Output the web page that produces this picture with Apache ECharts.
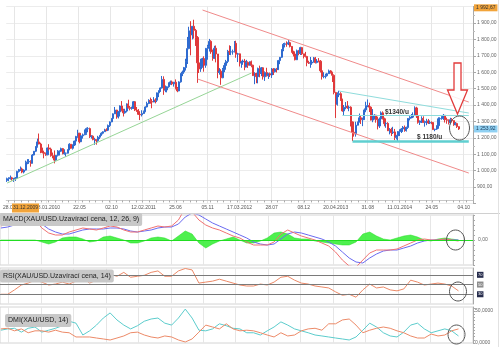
<!DOCTYPE html>
<html><head><meta charset="utf-8">
<script src="https://cdn.jsdelivr.net/npm/echarts@6/dist/echarts.min.js"></script>
<style>html,body{margin:0;padding:0;background:#fff}#c{width:500px;height:347px}</style>
</head><body><div id="c"></div>
<script>
// ---------- DATA ----------
const firstWeekMonday = '2009-07-20';
const totalWeeks = 277;            // axis length in weekly slots
const firstTickIndex = 5;
const tickEvery = 19;
const tickLabels = ['28.08.2009','08.01.2010','22.05','02.10','12.02.2011','25.06','05.11','17.03.2012','28.07','08.12','20.04.2013','31.08','11.01.2014','24.05','04.10'];

const firstOpen = 940;
const closes = [
951,954,956,949,953,955,995,1006,1010,991,
1003,1050,1053,1056,1045,1095,1118,1146,1175,1162,
1120,1110,1104,1096,1138,1131,1091,1083,1064,1093,
1118,1118,1134,1103,1106,1106,1126,1161,1136,1156,
1180,1208,1228,1176,1212,1218,1227,1256,1256,1207,
1210,1189,1189,1182,1204,1215,1228,1237,1248,1246,
1275,1297,1318,1346,1369,1327,1358,1394,1367,1352,
1363,1406,1384,1379,1380,1420,1369,1361,1343,1340,
1348,1361,1388,1409,1428,1421,1418,1430,1429,1474,
1486,1504,1556,1491,1492,1511,1536,1541,1529,1539,
1501,1486,1541,1591,1601,1628,1663,1744,1852,1828,
1880,1855,1812,1657,1620,1636,1683,1642,1745,1755,
1788,1724,1685,1746,1711,1598,1606,1566,1617,1641,
1666,1727,1724,1724,1725,1776,1710,1712,1656,1662,
1668,1631,1660,1642,1663,1643,1579,1592,1573,1622,
1592,1627,1572,1598,1579,1591,1583,1619,1603,1620,
1616,1671,1691,1738,1770,1773,1772,1780,1757,1724,
1711,1676,1731,1714,1750,1712,1702,1696,1658,1656,
1656,1662,1687,1659,1668,1667,1609,1573,1576,1578,
1591,1608,1596,1581,1476,1405,1462,1469,1436,1364,
1386,1392,1383,1387,1297,1234,1223,1277,1295,1322,
1310,1312,1370,1396,1396,1387,1308,1333,1338,1310,
1272,1315,1352,1316,1286,1288,1243,1251,1231,1236,
1203,1212,1238,1249,1254,1264,1244,1263,1318,1324,
1326,1339,1382,1334,1294,1303,1318,1293,1300,1302,
1290,1293,1292,1250,1253,1274,1316,1317,1320,1337,
1310,1307,1294,1310,1305,1280,1287,1268,1253.92];
const highs = [
957,959,970,962,955,960,999,1010,1025,1018,
1008,1061,1070,1070,1063,1101,1119,1150,1195,1226,
1170,1140,1111,1110,1139,1161,1140,1110,1123,1095,
1125,1123,1140,1138,1130,1110,1130,1167,1162,1160,
1182,1212,1249,1230,1216,1226,1251,1262,1265,1262,
1216,1215,1200,1190,1212,1216,1234,1240,1255,1258,
1281,1300,1320,1349,1388,1371,1364,1398,1424,1377,
1377,1410,1432,1394,1390,1424,1422,1388,1375,1346,
1368,1366,1392,1420,1435,1445,1436,1448,1441,1476,
1490,1508,1577,1575,1519,1514,1537,1549,1549,1541,
1556,1510,1545,1594,1610,1632,1682,1815,1877,1911,
1882,1920,1864,1820,1675,1682,1688,1697,1748,1767,
1803,1795,1738,1761,1763,1711,1625,1618,1626,1658,
1675,1736,1764,1760,1738,1790,1792,1718,1714,1670,
1677,1681,1675,1666,1666,1671,1646,1600,1597,1628,
1640,1631,1628,1605,1627,1596,1598,1625,1625,1624,
1626,1675,1692,1740,1778,1780,1788,1796,1786,1760,
1731,1725,1738,1736,1755,1754,1712,1724,1700,1670,
1693,1674,1693,1693,1680,1686,1674,1615,1600,1591,
1596,1616,1613,1603,1587,1480,1477,1487,1478,1438,
1400,1418,1424,1396,1392,1299,1267,1298,1299,1348,
1336,1323,1379,1420,1434,1414,1392,1375,1344,1340,
1329,1324,1361,1361,1323,1295,1295,1259,1261,1267,
1254,1218,1241,1251,1260,1272,1275,1268,1320,1332,
1345,1355,1392,1389,1335,1306,1331,1331,1305,1316,
1315,1306,1300,1295,1255,1276,1325,1325,1332,1345,
1339,1323,1312,1322,1320,1305,1296,1292,1270];
const lows = [
931,935,945,939,931,937,950,988,998,984,
983,1000,1039,1041,1024,1043,1092,1113,1140,1160,
1106,1105,1075,1090,1094,1122,1085,1075,1044,1060,
1086,1092,1113,1099,1097,1085,1104,1125,1133,1128,
1150,1163,1200,1166,1175,1195,1216,1218,1234,1199,
1195,1185,1157,1158,1176,1192,1212,1221,1236,1240,
1241,1266,1295,1310,1345,1316,1318,1330,1361,1330,
1347,1355,1378,1367,1371,1376,1363,1358,1340,1308,
1330,1345,1356,1385,1405,1408,1380,1417,1410,1418,
1448,1480,1500,1462,1478,1477,1505,1523,1521,1512,
1495,1478,1484,1536,1576,1590,1610,1650,1740,1703,
1800,1805,1760,1535,1595,1602,1627,1603,1627,1676,
1726,1712,1670,1680,1660,1563,1585,1523,1563,1600,
1628,1655,1705,1704,1707,1720,1688,1662,1635,1627,
1645,1612,1631,1626,1640,1630,1577,1527,1533,1532,
1569,1576,1555,1547,1573,1559,1571,1565,1583,1598,
1598,1613,1649,1687,1728,1751,1755,1765,1751,1719,
1696,1672,1674,1703,1705,1705,1684,1690,1636,1650,
1627,1645,1659,1653,1654,1660,1598,1555,1563,1562,
1575,1590,1592,1540,1465,1321,1396,1448,1425,1359,
1338,1374,1377,1362,1269,1180,1207,1207,1275,1294,
1284,1271,1308,1356,1387,1357,1306,1295,1311,1292,
1251,1260,1312,1312,1270,1261,1241,1221,1211,1223,
1186,1190,1181,1211,1229,1236,1237,1238,1254,1306,
1318,1320,1335,1321,1286,1278,1290,1291,1268,1277,
1284,1284,1283,1249,1240,1248,1255,1305,1310,1309,
1293,1286,1281,1282,1293,1273,1276,1260,1248];

const cursorPrice = 1992.67;
const cursorDateLabel = '31.12.2009';

// indicators, one reading every 4 weeks
const indicatorStep = 4;
const macdLine = [70,80,90,100,110,100,60,35,25,25,40,50,60,55,50,60,70,65,50,40,40,50,60,70,65,70,100,160,140,100,75,60,50,35,20,10,-10,-25,-25,-25,-10,30,50,35,20,10,0,-15,-30,-60,-100,-130,-135,-100,-65,-50,-50,-50,-45,-30,-15,0,5,0,0,5,0,-5];
const signalLine = [60,65,75,85,95,95,80,55,40,30,30,40,50,55,55,55,60,60,55,45,40,45,50,60,65,65,80,115,135,125,105,85,70,55,40,25,10,-10,-20,-25,-20,5,30,40,35,25,15,5,-10,-30,-60,-90,-110,-115,-90,-70,-55,-50,-50,-40,-30,-15,-5,0,0,0,0,0];
const macdHist = [0,0,0,0,0,0,-10,-20,-10,10,15,15,5,-10,-5,15,20,10,0,-15,-15,-5,10,15,10,-5,20,45,30,-15,-40,-20,-5,5,15,0,-15,-15,-5,10,35,40,30,10,5,5,-5,-10,-15,-20,-25,-25,-10,30,40,20,5,0,10,20,25,15,0,-5,5,10,5,0];
const rsi = [30,30,39,49,53,59,55,49,51,55,51,57,63,53,59,67,71,67,75,65,67,69,75,78,67,67,78,83,80,53,55,57,61,57,53,49,47,47,51,49,55,65,67,59,53,51,47,45,43,35,28,30,24,39,51,43,45,39,37,41,59,55,49,51,53,51,47,37];
const rsiLevels = [70,50,30];
const diPlus = [20,22,23,17,23,25,17,20,23,27,34,31,12.5,19,28,39,47,36,28,22,27,34,37.5,39,31,28,39,53,39,20,19,22,30,27,23,22,16,16,12.5,19,25,33,28,22,19,16,12.5,11,9.4,7.8,6.3,4.7,9.4,20,31,25,16,11,9.4,17,28,31,22,16,19,22,19,11];
const diMinus = [22,23,19,22,16,19,19,17,20,17,16,9.4,9.4,9.4,7.8,6.3,4.7,7.8,11,16,17,12.5,9.4,7.8,11,9.4,4.7,1.6,6.3,17,28,25,22,30,22,19,20,19,16,12.5,9.4,16,11,12.5,19,22,23,20,30,30,36,37.5,28,16,20,23,25,23,19,16,11,7.8,7.8,14,11,12.5,19,22];

// ---------- BUILD ----------
const categories = [];
{
  const d0 = new Date(firstWeekMonday + 'T00:00:00Z');
  for (let i = 0; i < totalWeeks; i++) {
    const d = new Date(d0.getTime() + i * 7 * 86400000);
    categories.push(d.toISOString().slice(0, 10));
  }
}
const isTick = (i) => i >= firstTickIndex && (i - firstTickIndex) % tickEvery === 0;
const tickText = (i) => isTick(i) ? (tickLabels[(i - firstTickIndex) / tickEvery] || '') : '';

const ohlc = closes.map((c, i) => {
  const o = i === 0 ? firstOpen : closes[i - 1]; // weekly bar opens at previous close
  return [o, c, lows[i], highs[i]];
});
const sampled = (arr) => arr.map((v, k) => [k * indicatorStep, v]);

function fmtNum(v, dec) {
  const parts = v.toFixed(dec).split('.');
  return parts[0].replace(/\B(?=(\d{3})+(?!\d))/g, ' ') + ',' + parts[1];
}
const lastClose = closes[closes.length - 1];

const FONT = 'Liberation Sans';
const gridL = 0, gridR = 27;
const vSplit = { show: true, interval: (i) => isTick(i), lineStyle: { color: '#e6e6e6', width: 1 } };

function lowerX(gi) {
  return { type: 'category', gridIndex: gi, data: categories, boundaryGap: true,
    axisLine: { show: false }, axisTick: { show: false }, axisLabel: { show: false },
    splitLine: vSplit };
}
const priceTag = (v, bg, fg) => ({
  yAxis: v, lineStyle: { color: 'rgba(0,0,0,0)', width: 1 },
  label: { show: true, position: 'end', distance: 1, formatter: fmtNum(v, 2), fontSize: 5, color: fg,
    backgroundColor: bg, padding: [1, 2], fontFamily: FONT }
});

const option = {
  animation: false,
  backgroundColor: '#ffffff',
  textStyle: { fontFamily: FONT },
  grid: [
    { left: gridL, right: gridR, top: 6.6, height: 196.8, containLabel: false },
    { left: gridL, right: gridR, top: 215, height: 50, containLabel: false, show: true, borderColor: '#d4d4d4', borderWidth: 1 },
    { left: gridL, right: gridR, top: 268, height: 36, containLabel: false, show: true, borderColor: '#d4d4d4', borderWidth: 1 },
    { left: gridL, right: gridR, top: 307, height: 36, containLabel: false, show: true, borderColor: '#d4d4d4', borderWidth: 1 }
  ],
  xAxis: [
    { type: 'category', gridIndex: 0, data: categories, boundaryGap: true, offset: -3,
      axisLine: { show: true, lineStyle: { color: '#c8c8c8' } },
      axisTick: { show: true, interval: (i) => (i % 4) === 1, length: 2, lineStyle: { color: '#aaaaaa' } },
      axisLabel: { show: true, interval: (i) => isTick(i), formatter: (v, i) => tickText(i), fontSize: 5, color: '#555', margin: 4.5, fontFamily: FONT },
      splitLine: vSplit },
    lowerX(1), lowerX(2), lowerX(3)
  ],
  yAxis: [
    { type: 'value', gridIndex: 0, position: 'right', min: 800, max: 2000, interval: 100, scale: true,
      axisLine: { show: true, lineStyle: { color: '#a8a8a8' } },
      axisTick: { show: true, length: 3, lineStyle: { color: '#a8a8a8' } },
      minorTick: { show: true, splitNumber: 2, length: 2, lineStyle: { color: '#bbbbbb' } },
      splitLine: { show: true, lineStyle: { color: '#ececec' } },
      axisLabel: { fontSize: 5, color: '#666', margin: 4, fontFamily: FONT,
        formatter: (v) => (v < 900 || v > 1900) ? '' : fmtNum(v, 2) } },
    { type: 'value', gridIndex: 1, position: 'right', min: -125, max: 125, interval: 25,
      axisLine: { show: true, lineStyle: { color: '#a8a8a8' } },
      axisTick: { show: true, length: 2, lineStyle: { color: '#a8a8a8' } },
      splitLine: { show: false },
      axisLabel: { fontSize: 5, color: '#666', margin: 5, fontFamily: FONT, formatter: (v) => v === 0 ? '0,00' : '' } },
    { type: 'value', gridIndex: 2, position: 'right', min: 10, max: 84,
      axisLine: { show: true, lineStyle: { color: '#a8a8a8' } },
      axisTick: { show: false }, splitLine: { show: false }, axisLabel: { show: false } },
    { type: 'value', gridIndex: 3, position: 'right', min: 0, max: 56.25, interval: 5,
      axisLine: { show: true, lineStyle: { color: '#a8a8a8' } },
      axisTick: { show: true, length: 2, lineStyle: { color: '#a8a8a8' } },
      splitLine: { show: false },
      axisLabel: { fontSize: 5, color: '#666', margin: 2, fontFamily: FONT, showMaxLabel: false,
        formatter: (v) => (v === 0 || v === 50) ? fmtNum(v, 4) : '' } }
  ],
  series: [
    { type: 'candlestick', xAxisIndex: 0, yAxisIndex: 0, data: ohlc, barWidth: 1.6,
      itemStyle: { color: '#2f6bd0', color0: '#e0393b', borderColor: '#2f6bd0', borderColor0: '#e0393b', borderWidth: 1 },
      markLine: {
        silent: true, symbol: ['none', 'none'], animation: false,
        label: { show: false },
        data: [
          [{ coord: [0, 924], lineStyle: { color: '#96d596', width: 1, type: 'solid' } }, { coord: [145, 1595] }],
          [{ coord: [116, 1979], lineStyle: { color: '#f08a8a', width: 1, type: 'solid' } }, { coord: [274, 1418] }],
          [{ coord: [113, 1559], lineStyle: { color: '#f08a8a', width: 1, type: 'solid' } }, { coord: [274, 985] }],
          [{ coord: [197, 1485], lineStyle: { color: '#8fdcdc', width: 1, type: 'solid' } }, { coord: [274, 1351] }],
          [{ coord: [199, 1340], lineStyle: { color: '#8fdcdc', width: 1, type: 'solid' } }, { coord: [274, 1340] }],
          [{ coord: [205, 1180], lineStyle: { color: '#5fcfd0', width: 2.5, type: 'solid' } }, { coord: [274, 1180] }]
        ]
      } },
    { type: 'line', xAxisIndex: 0, yAxisIndex: 0, data: [], showSymbol: false, silent: true,
      markLine: { silent: true, symbol: ['none', 'none'], animation: false,
        data: [priceTag(cursorPrice, '#f2a43a', '#333333'), priceTag(lastClose, '#8fd0f2', '#1a3a5a')] } },
    { type: 'line', xAxisIndex: 1, yAxisIndex: 1, data: sampled(macdHist), showSymbol: false, z: 1,
      lineStyle: { width: 0.5, color: '#22dd22' }, areaStyle: { color: '#3bee3b', opacity: 0.9 },
      markLine: { silent: true, symbol: ['none', 'none'], label: { show: false },
        lineStyle: { color: '#22dd22', width: 1, type: 'solid' }, data: [{ yAxis: 0 }] } },
    { type: 'line', xAxisIndex: 1, yAxisIndex: 1, data: sampled(signalLine), showSymbol: false,
      lineStyle: { width: 1, color: '#6a6af0' } },
    { type: 'line', xAxisIndex: 1, yAxisIndex: 1, data: sampled(macdLine), showSymbol: false,
      lineStyle: { width: 1, color: '#f07272' } },
    { type: 'line', xAxisIndex: 2, yAxisIndex: 2, data: sampled(rsi), showSymbol: false,
      lineStyle: { width: 1, color: '#ec8a68' },
      markLine: { silent: true, symbol: ['none', 'none'],
        lineStyle: { color: '#7a7a7a', width: 1, type: 'solid' },
        label: { show: true, position: 'end', distance: 4, formatter: (p) => String(p.value), fontSize: 4, color: '#ffffff',
          backgroundColor: '#262c4c', padding: [1, 1], fontFamily: FONT },
        data: rsiLevels.map((v, i) => i === 1 ? { yAxis: v, label: { backgroundColor: '#8c8c8c' } } : { yAxis: v }) } },
    { type: 'line', xAxisIndex: 3, yAxisIndex: 3, data: sampled(diPlus), showSymbol: false,
      lineStyle: { width: 1, color: '#5ccccc' } },
    { type: 'line', xAxisIndex: 3, yAxisIndex: 3, data: sampled(diMinus), showSymbol: false,
      lineStyle: { width: 1, color: '#ec8a68' } }
  ],
  graphic: [
    { type: 'line', z: 50, shape: { x1: 0, y1: 213.5, x2: 500, y2: 213.5 }, style: { stroke: '#d0d0d0', lineWidth: 1 } },
    { type: 'line', z: 50, shape: { x1: 498.5, y1: 0, x2: 498.5, y2: 347 }, style: { stroke: '#e2e2e2', lineWidth: 1 } },
    { type: 'text', z: 100, x: 12, y: 203.5, style: { text: cursorDateLabel, font: '5px "Liberation Sans"', fill: '#333',
        backgroundColor: '#f2a43a', padding: [2, 1] } },
    { type: 'text', z: 100, x: 0, y: 213, style: { text: 'MACD(XAU/USD.Uzavírací cena, 12, 26, 9)', font: '7px "Liberation Sans"', fill: '#222',
        backgroundColor: '#c8c8c8', padding: [3, 3], borderRadius: 2 } },
    { type: 'text', z: 100, x: 0, y: 269.5, style: { text: 'RSI(XAU/USD.Uzavírací cena, 14)', font: '7px "Liberation Sans"', fill: '#222',
        backgroundColor: '#c8c8c8', padding: [3, 3], borderRadius: 2 } },
    { type: 'text', z: 100, x: 5, y: 314, style: { text: 'DMI(XAU/USD, 14)', font: '7px "Liberation Sans"', fill: '#222',
        backgroundColor: '#c8c8c8', padding: [3, 3], borderRadius: 2 } },
    { type: 'text', z: 100, x: 385, y: 108.5, style: { text: '$1340/u', font: 'bold 6.5px "Liberation Sans"', fill: '#333' } },
    { type: 'text', z: 100, x: 417, y: 133.5, style: { text: '$ 1180/u', font: 'bold 6.5px "Liberation Sans"', fill: '#333' } },
    { type: 'polygon', z: 100, shape: { points: [[454, 63], [461, 63], [461, 90], [467.5, 90], [457.5, 114], [447.5, 90], [454, 90]] },
      style: { fill: 'rgba(255,255,255,0.85)', stroke: '#e23a3a', lineWidth: 1.3 } },
    { type: 'ellipse', z: 100, shape: { cx: 459.5, cy: 128, rx: 10, ry: 12 }, style: { fill: 'none', stroke: '#555', lineWidth: 1 } },
    { type: 'ellipse', z: 100, shape: { cx: 455.5, cy: 240, rx: 9, ry: 10 }, style: { fill: 'none', stroke: '#555', lineWidth: 1 } },
    { type: 'ellipse', z: 100, shape: { cx: 458, cy: 291.5, rx: 8.5, ry: 9.5 }, style: { fill: 'none', stroke: '#555', lineWidth: 1 } },
    { type: 'ellipse', z: 100, shape: { cx: 456.5, cy: 334.5, rx: 8.5, ry: 9.5 }, style: { fill: 'none', stroke: '#555', lineWidth: 1 } }
  ]
};

const chart = echarts.init(document.getElementById('c'), null, { renderer: 'canvas' });
chart.setOption(option);
</script>
</body></html>
